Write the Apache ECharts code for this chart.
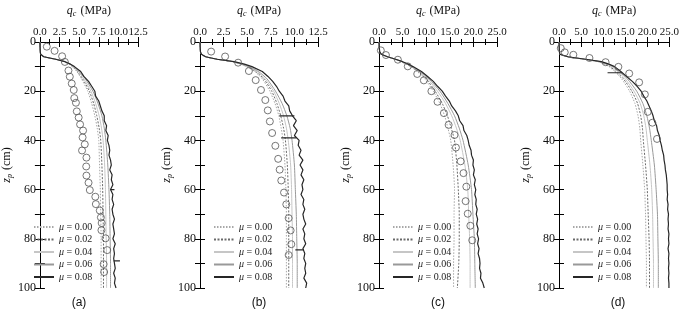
<!DOCTYPE html>
<html>
<head>
<meta charset="utf-8">
<script src="https://cdn.jsdelivr.net/npm/echarts@6/dist/echarts.min.js"></script>
<style>
html, body { margin: 0; padding: 0; background: #fff; }
#main { width: 682px; height: 314px; }
</style>
</head>
<body>
<div id="main"></div>
<script>
// depth grid (cm) for the smooth curves
var zSmooth = [0, 2, 4, 5, 6, 7, 8, 9, 10, 12, 15, 20, 25, 30, 35, 40, 50, 60, 70, 80, 90, 100];
// depth grid (cm) for the noisy mu = 0.08 curve
var zDark = [0, 2, 4, 5, 6, 7, 8, 9, 10,
  12, 14, 16, 18, 20, 22, 24, 26, 28, 30, 32, 34, 36, 38, 40, 42, 44, 46, 48, 50,
  52, 54, 56, 58, 60, 62, 64, 66, 68, 70, 72, 74, 76, 78, 80, 82, 84, 86, 88, 90,
  92, 94, 96, 98, 100];
var muNames = ['0.00', '0.02', '0.04', '0.06', '0.08'];
var panelLabels = ['(a)', '(b)', '(c)', '(d)'];
var xMaxes = [12.5, 12.5, 25, 25];
var xSteps = [2.5, 2.5, 5, 5];

// panel (a)
var a00 = [0, 0.02, 0.05, 0.1, 0.5, 2.0, 3.1, 3.7, 4.1, 4.7, 5.3, 6.1, 6.6, 7.0, 7.3, 7.5, 7.6, 7.7, 7.75, 7.8, 7.8, 7.8];
var a02 = [0, 0.02, 0.05, 0.1, 0.5, 2.0, 3.1, 3.75, 4.2, 4.8, 5.45, 6.3, 6.85, 7.25, 7.55, 7.75, 7.9, 8.0, 8.05, 8.1, 8.1, 8.1];
var a04 = [0, 0.02, 0.05, 0.1, 0.5, 2.0, 3.15, 3.8, 4.25, 4.9, 5.6, 6.5, 7.1, 7.55, 7.85, 8.05, 8.25, 8.35, 8.4, 8.45, 8.5, 8.5];
var a06 = [0, 0.02, 0.05, 0.1, 0.5, 2.0, 3.2, 3.85, 4.3, 5.0, 5.8, 6.75, 7.4, 7.9, 8.2, 8.4, 8.65, 8.8, 8.9, 8.95, 9.0, 9.0];
var a08 = [0, 0.02, 0.05, 0.1, 0.5, 2.0, 3.2, 3.9, 4.4,
  5.2, 5.6, 6.2, 6.6, 7.0, 7.1, 7.5, 7.7, 7.9, 8.2, 8.2, 8.5, 8.4, 8.7, 8.6, 8.8, 8.9, 8.8, 9.0, 9.1,
  8.9, 9.2, 9.1, 9.3, 9.0, 9.3, 9.2, 9.4, 9.2, 9.3, 9.5, 9.3, 9.4, 9.5, 9.3, 9.6, 9.4, 9.5, 9.4, 9.5,
  9.6, 9.4, 9.6, 9.5, 9.7];
var aSpikes = [[89, 9.4, 10.2], [60, 9.0, 9.5]];
var aExpQ = [0.88, 1.87, 2.83, 3.18, 3.64, 3.81, 4.06, 4.31, 4.38, 4.59, 4.70, 4.94, 5.12, 5.50, 5.44, 5.72,
  5.37, 5.93, 5.90, 5.93, 6.20, 6.36, 7.06, 7.13, 7.63, 7.77, 7.87, 7.84, 8.37, 8.58, 8.12, 8.19];
var aExpZ = [1.9, 3.6, 5.8, 8.1, 11.6, 14.1, 16.9, 19.5, 22.8, 24.7, 28.2, 30.7, 33.5, 36.0, 38.8, 41.6,
  44.1, 47.0, 50.6, 54.3, 57.2, 60.2, 62.9, 65.9, 68.5, 71.3, 73.6, 76.5, 79.8, 84.6, 90.3, 93.5];

// panel (b)
var b00 = [0, 0.02, 0.05, 0.15, 0.6, 1.8, 3.4, 4.3, 4.9, 5.8, 6.6, 7.4, 7.95, 8.35, 8.6, 8.8, 9.0, 9.1, 9.15, 9.15, 9.15, 9.15];
var b02 = [0, 0.02, 0.05, 0.15, 0.6, 1.8, 3.45, 4.35, 5.0, 5.9, 6.75, 7.6, 8.15, 8.55, 8.85, 9.05, 9.25, 9.35, 9.4, 9.4, 9.4, 9.4];
var b04 = [0, 0.02, 0.05, 0.15, 0.6, 1.8, 3.5, 4.4, 5.1, 6.05, 6.9, 7.8, 8.4, 8.85, 9.15, 9.35, 9.6, 9.7, 9.75, 9.8, 9.8, 9.8];
var b06 = [0, 0.02, 0.05, 0.15, 0.6, 1.8, 3.55, 4.5, 5.2, 6.2, 7.1, 8.0, 8.7, 9.2, 9.55, 9.75, 10.0, 10.1, 10.2, 10.25, 10.3, 10.3];
var b08 = [0, 0.02, 0.05, 0.15, 0.6, 1.8, 3.6, 4.7, 5.5,
  6.6, 7.2, 7.7, 8.1, 8.4, 8.8, 9.0, 9.4, 9.5, 9.8, 10.2, 9.9, 10.3, 10.0, 10.5, 10.4, 10.7, 10.5, 10.9, 10.6,
  10.9, 10.7, 11.0, 10.8, 10.9, 10.7, 11.0, 10.9, 11.1, 10.9, 11.0, 11.2, 10.9, 11.1, 11.0, 11.2, 10.9, 11.1, 11.0, 11.2,
  11.1, 11.2, 11.0, 11.3, 11.2];
var bSpikes = [[30, 8.4, 10.0], [39, 8.6, 10.2], [84.5, 10.1, 11.0]];
var bExpQ = [1.18, 2.66, 4.04, 5.18, 5.90, 6.46, 6.92, 7.18, 7.40, 7.64, 7.98, 8.28, 8.44, 8.61, 8.90, 9.14, 9.39, 9.60, 9.67, 9.39];
var bExpZ = [3.9, 5.9, 8.4, 11.8, 15.5, 19.5, 23.6, 27.8, 32.3, 37.0, 42.2, 47.5, 51.9, 56.3, 61.2, 66.0, 71.6, 76.6, 82.2, 86.6];

// panel (c)
var c00 = [0, 0.05, 0.15, 0.5, 1.8, 3.4, 4.7, 5.7, 6.7, 8.1, 9.7, 11.5, 12.9, 13.9, 14.6, 15.2, 15.7, 16.0, 15.9, 15.9, 15.8, 15.8];
var c02 = [0, 0.05, 0.15, 0.5, 1.8, 3.45, 4.8, 5.8, 6.8, 8.3, 10.0, 11.9, 13.4, 14.5, 15.3, 16.0, 16.5, 16.8, 17.0, 17.0, 16.9, 16.6];
var c04 = [0, 0.05, 0.15, 0.5, 1.8, 3.5, 4.85, 5.9, 6.9, 8.5, 10.3, 12.4, 14.1, 15.4, 16.4, 17.2, 18.2, 18.8, 19.0, 19.2, 19.3, 19.3];
var c06 = [0, 0.05, 0.15, 0.5, 1.8, 3.5, 4.9, 6.0, 7.0, 8.7, 10.6, 12.9, 14.6, 16.0, 17.0, 17.8, 18.9, 19.6, 19.9, 20.2, 20.3, 20.4];
var c08 = [0, 0.05, 0.15, 0.5, 1.8, 3.5, 5.0, 6.2, 7.2,
  9.0, 10.3, 11.5, 12.4, 13.4, 14.1, 14.9, 15.4, 16.2, 16.8, 17.1, 17.8, 18.0, 18.6, 18.9, 19.1, 19.5, 19.6, 20.0, 19.9,
  20.2, 20.0, 20.4, 20.2, 20.5, 20.3, 20.6, 20.5, 20.8, 20.6, 20.9, 20.7, 21.0, 20.8, 21.1, 20.9, 21.2, 21.0, 21.3, 21.4,
  21.3, 21.6, 21.5, 22.0, 22.3];
var cSpikes = [];
var cExpQ = [0.39, 1.47, 4.0, 6.1, 8.1, 9.5, 11.1, 12.4, 13.75, 14.75, 16.0, 16.3, 17.3, 17.9, 18.5, 18.35, 18.8, 19.35, 19.75];
var cExpZ = [3.4, 5.3, 7.2, 9.9, 13.0, 15.6, 20.0, 24.3, 28.9, 33.7, 37.8, 42.9, 48.5, 53.3, 58.8, 64.7, 69.8, 74.7, 80.6];

// panel (d)
var d00 = [0, 0.05, 0.1, 0.2, 2.0, 5.6, 8.8, 10.3, 11.3, 12.6, 14.2, 16.0, 17.2, 17.9, 18.3, 18.5, 19.0, 19.4, 19.6, 19.7, 19.8, 19.8];
var d02 = [0, 0.05, 0.1, 0.2, 2.0, 5.7, 9.0, 10.5, 11.6, 12.9, 14.6, 16.5, 17.8, 18.5, 18.9, 19.1, 19.6, 20.0, 20.2, 20.4, 20.5, 20.5];
var d04 = [0, 0.05, 0.1, 0.2, 2.0, 5.8, 9.2, 10.8, 11.9, 13.3, 15.0, 17.0, 18.4, 19.2, 19.7, 20.0, 20.6, 21.0, 21.2, 21.3, 21.4, 21.4];
var d06 = [0, 0.05, 0.1, 0.2, 2.0, 5.9, 9.4, 11.0, 12.2, 13.6, 15.5, 17.6, 19.0, 19.9, 20.5, 20.9, 21.6, 22.0, 22.3, 22.4, 22.5, 22.5];
var d08 = [0, 0.05, 0.1, 0.2, 2.0, 6.0, 9.6, 11.3, 12.6,
  14.0, 15.3, 16.6, 17.7, 18.6, 19.2, 19.9, 20.4, 20.9, 21.3, 21.6, 22.1, 22.3, 22.7, 22.9, 23.2, 23.4, 23.7, 23.8, 24.0,
  24.1, 24.3, 24.4, 24.5, 24.5, 24.6, 24.5, 24.7, 24.6, 24.8, 24.7, 24.8, 24.7, 24.9, 24.8, 24.9, 24.7, 24.9, 24.8, 24.9,
  24.8, 24.9, 24.8, 24.9, 24.9];
var dSpikes = [[12.5, 11.0, 14.2]];
var dExpQ = [0.4, 1.3, 3.25, 6.9, 10.55, 13.45, 15.9, 18.15, 19.45, 20.1, 21.15, 22.2];
var dExpZ = [2.5, 4.2, 5.2, 6.5, 8.2, 10.1, 12.8, 16.4, 21.3, 28.4, 32.8, 39.4];

var panels = [
  { curves: [a00, a02, a04, a06], dark: a08, spikes: aSpikes, expQ: aExpQ, expZ: aExpZ },
  { curves: [b00, b02, b04, b06], dark: b08, spikes: bSpikes, expQ: bExpQ, expZ: bExpZ },
  { curves: [c00, c02, c04, c06], dark: c08, spikes: cSpikes, expQ: cExpQ, expZ: cExpZ },
  { curves: [d00, d02, d04, d06], dark: d08, spikes: dSpikes, expQ: dExpQ, expZ: dExpZ }
];

var gridLefts = [20, 200, 379, 559];
var lineStyles = [
  { color: '#a8a8a8', width: 1, type: [1.5, 1.5] },
  { color: '#6a6a6a', width: 1, type: [2, 1.5] },
  { color: '#c6c6c6', width: 1, type: 'solid' },
  { color: '#999999', width: 1, type: 'solid' },
  { color: '#262626', width: 1.2, type: 'solid' }
];
var serif = 'Liberation Serif';
var nameRich = {
  i: { fontFamily: serif, fontStyle: 'italic', fontSize: 12, color: '#111' },
  s: { fontFamily: serif, fontStyle: 'italic', fontSize: 8, color: '#111', verticalAlign: 'bottom', padding: [6, 1, 0, 0] },
  n: { fontFamily: serif, fontSize: 12, color: '#111' }
};

function pairs(qs, zs) {
  return qs.map(function (q, k) { return [q, zs[k]]; });
}

var grids = [], xAxes = [], yAxes = [], series = [], legends = [], graphics = [];

panels.forEach(function (p, i) {
  var left = gridLefts[i];
  grids.push({ left: left, top: 37, width: 118, height: 251 });

  var xBase = {
    gridIndex: i, type: 'value', min: 0, max: xMaxes[i], interval: xSteps[i],
    axisLine: { lineStyle: { color: '#000', width: 1 } },
    axisTick: { inside: true, length: 5, lineStyle: { color: '#000' } },
    minorTick: { show: true, splitNumber: 2, length: 3, lineStyle: { color: '#000' } },
    splitLine: { show: false }
  };
  xAxes.push(Object.assign({}, xBase, {
    position: 'top',
    axisLabel: { fontFamily: serif, fontSize: 11, color: '#111', margin: 4,
      formatter: function (v) { return v.toFixed(1); } },
    name: '{i|q}{s|c}{n| (MPa)}', nameLocation: 'middle', nameGap: 24,
    nameTextStyle: { rich: nameRich }
  }));
  xAxes.push(Object.assign({}, xBase, { position: 'bottom', axisLabel: { show: false } }));

  var yBase = {
    gridIndex: i, type: 'value', inverse: true, min: 0, max: 100, interval: 20,
    axisLine: { lineStyle: { color: '#000', width: 1 } },
    axisTick: { inside: true, length: 5, lineStyle: { color: '#000' } },
    minorTick: { show: true, splitNumber: 2, length: 5, lineStyle: { color: '#000' } },
    splitLine: { show: false }
  };
  yAxes.push(Object.assign({}, yBase, {
    position: 'left',
    axisLabel: { fontFamily: serif, fontSize: 12, color: '#111', margin: 4 },
    name: '{i|z}{s|p}{n| (cm)}', nameLocation: 'middle', nameGap: 12, nameRotate: 90,
    nameTextStyle: { rich: nameRich }
  }));
  yAxes.push(Object.assign({}, yBase, { position: 'right', axisLabel: { show: false } }));

  p.curves.forEach(function (qs, m) {
    series.push({
      type: 'line', name: muNames[m], xAxisIndex: 2 * i, yAxisIndex: 2 * i,
      data: pairs(qs, zSmooth), symbol: 'none', smooth: 0.2,
      lineStyle: lineStyles[m], itemStyle: { color: lineStyles[m].color },
      silent: true, z: 2 + m
    });
  });
  series.push({
    type: 'line', name: muNames[4], xAxisIndex: 2 * i, yAxisIndex: 2 * i,
    data: pairs(p.dark, zDark), symbol: 'none',
    lineStyle: lineStyles[4], itemStyle: { color: lineStyles[4].color },
    silent: true, z: 7
  });
  p.spikes.forEach(function (s) {
    series.push({
      type: 'line', xAxisIndex: 2 * i, yAxisIndex: 2 * i,
      data: [[s[1], s[0]], [s[2], s[0]]], symbol: 'none',
      lineStyle: lineStyles[4], silent: true, z: 7
    });
  });
  series.push({
    type: 'scatter', xAxisIndex: 2 * i, yAxisIndex: 2 * i,
    data: pairs(p.expQ, p.expZ), symbol: 'circle', symbolSize: 7,
    itemStyle: { color: 'rgba(255,255,255,0)', borderColor: '#555', borderWidth: 1 },
    silent: true, z: 9
  });

  legends.push({
    orient: 'vertical', left: left + 8, top: 216,
    itemWidth: 20, itemHeight: 8, itemGap: 0.5, selectedMode: false,
    itemStyle: { opacity: 0 },
    data: muNames,
    formatter: function (n) { return '{i|\u03bc} = ' + n; },
    textStyle: { fontFamily: serif, fontSize: 10, color: '#222', lineHeight: 12,
      rich: { i: { fontFamily: serif, fontStyle: 'italic', fontSize: 10, color: '#222' } } }
  });

  graphics.push({
    type: 'text', x: left + 59, y: 303,
    style: { text: panelLabels[i], font: '12px "Liberation Sans"', fill: '#111',
      textAlign: 'center', textVerticalAlign: 'middle' }
  });
});

var chart = echarts.init(document.getElementById('main'));
chart.setOption({
  backgroundColor: '#fff',
  animation: false,
  grid: grids,
  xAxis: xAxes,
  yAxis: yAxes,
  legend: legends,
  series: series,
  graphic: graphics
});
</script>
</body>
</html>
